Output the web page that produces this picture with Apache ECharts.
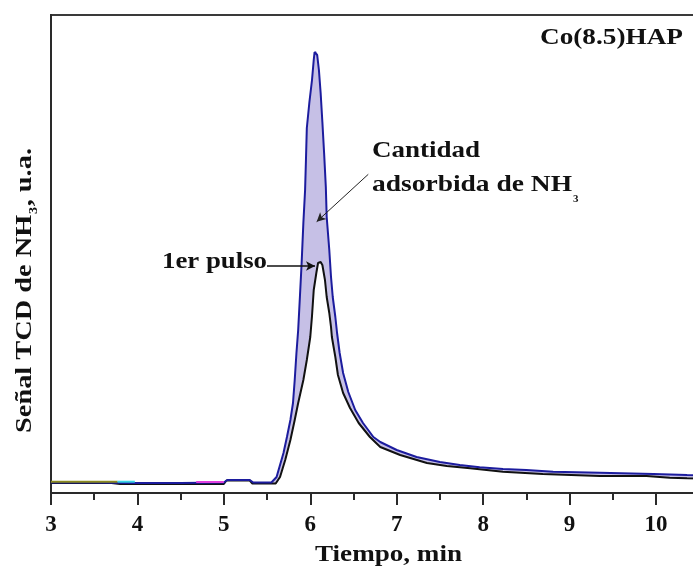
<!DOCTYPE html>
<html><head><meta charset="utf-8">
<script src="https://cdn.jsdelivr.net/npm/echarts@6/dist/echarts.min.js"></script>
<style>html,body{margin:0;padding:0;background:#fff;overflow:hidden;width:693px;height:569px}#c{width:800px;height:569px}</style>
</head><body><div id="c"></div>
<script>
// Upper trace (total signal, blue)
const upperTime = [3.00,3.50,4.00,4.50,5.00,5.04,5.30,5.34,5.55,5.61,5.69,5.73,5.77,5.80,5.82,5.84,5.86,5.88,5.90,5.92,5.94,5.95,5.96,5.99,6.02,6.04,6.05,6.07,6.08,6.10,6.12,6.14,6.16,6.18,6.19,6.22,6.24,6.26,6.29,6.31,6.34,6.38,6.44,6.52,6.61,6.73,6.81,7.00,7.23,7.50,7.73,7.96,8.23,8.50,8.81,9.35,9.97,10.36,10.50];
const upperSignal = [10.5,10.5,10,10,10.5,13,13,10.5,10.5,16,40,56,73,90,113,140,163,196,230,270,303,333,365,391,413,433,441,442,438,423,400,371,340,306,276,243,216,196,176,160,140,120,101,83,70,56,51,43,36,31,28,25.7,24,23,21.3,20.3,19,18,17.8];
// First pulse trace (black)
const pulseTime = [3.00,3.70,3.80,5.00,5.03,5.30,5.33,5.60,5.65,5.71,5.77,5.82,5.86,5.92,5.96,6.00,6.02,6.04,6.07,6.09,6.12,6.14,6.17,6.19,6.22,6.24,6.25,6.29,6.32,6.38,6.46,6.56,6.69,6.81,7.04,7.35,7.58,7.85,8.23,8.69,9.35,9.89,10.16,10.36,10.50];
const pulseSignal = [10,10,9,9,12.5,12.5,9.5,9.5,16,33,53,73,90,113,133,156,177,203,220,230,231,228,213,196,180,166,156,136,118,100,85,70,56,46,38,30,27,24.7,21.3,19,17,17,15.3,14.7,14.5];
// small coloured baseline fragments of other pulses
const oliveTime = [3.00,3.77];
const oliveSignal = [11.3,11.3];
const cyanTime = [3.77,3.97];
const cyanSignal = [11.3,11.3];
const magentaTime = [4.68,5.00];
const magentaSignal = [11,11];
const xTickLabels = ['3','4','5','6','7','8','9','10'];

const zip = (a,b)=>a.map((v,i)=>[v,b[i]]);
const upper = zip(upperTime, upperSignal);
const pulse = zip(pulseTime, pulseSignal);

const FONT = '"Liberation Serif","Times New Roman",serif';
const ctx = document.createElement('canvas').getContext('2d');
function tw(text, size){ ctx.font = 'bold ' + size + 'px ' + FONT; return ctx.measureText(text).width; }
function hText(text, left, cy, width, size){
  return {type:'text', x:left, y:cy, scaleX: width / tw(text, size), silent:true,
    style:{text:text, font:'bold '+size+'px '+FONT, fill:'#111', textAlign:'left', textVerticalAlign:'middle', verticalAlign:'middle'}};
}
const sz = 24;
// Y title pieces
const y1 = 'Señal TCD de NH', y2 = ', u.a.';
const w1 = tw(y1, sz), ws = tw('3', 12), w2 = tw(y2, sz);
const ySpan = 285;
const yScale = ySpan / (w1 + ws + 1 + w2);

const chart = echarts.init(document.getElementById('c'), null, {renderer:'canvas', width:800, height:569});
chart.setOption({
  animation:false,
  backgroundColor:'#fff',
  grid:{left:51, top:15, right:57.6, bottom:76, show:true, borderColor:'#3a3a3a', borderWidth:2, backgroundColor:'transparent'},
  xAxis:{type:'value', min:3, max:11, interval:1,
    axisLine:{show:true, onZero:false, lineStyle:{color:'#2a2a2a', width:2}},
    axisTick:{show:true, inside:false, length:12, lineStyle:{color:'#2a2a2a', width:2}},
    minorTick:{show:true, splitNumber:2, length:7, lineStyle:{color:'#2a2a2a', width:2}},
    splitLine:{show:false},
    axisLabel:{show:true, margin:21, fontFamily:FONT, fontWeight:'bold', fontSize:23, color:'#111',
      formatter:(v)=>{ const i = Math.round(v)-3; return (Number.isInteger(v) && xTickLabels[i]) ? xTickLabels[i] : ''; }}
  },
  yAxis:{type:'value', min:0, max:478,
    axisLine:{show:true, onZero:false, lineStyle:{color:'#2a2a2a', width:2}},
    axisTick:{show:false}, axisLabel:{show:false}, splitLine:{show:false}
  },
  series:[
    {type:'custom', silent:true, z:1, data:[[3,0]], encode:{x:0,y:1},
      renderItem:(params, api)=>{
        const pts = upper.map(p=>api.coord(p)).concat(pulse.slice().reverse().map(p=>api.coord(p)));
        return {type:'polygon', shape:{points:pts}, style:{fill:'#c6c0e6', stroke:null}};
      }},
    {type:'line', name:'1er pulso', data:pulse, showSymbol:false, symbol:'none', z:3,
      lineStyle:{color:'#111', width:2},
      markLine:{silent:true, symbol:['none','arrow'], symbolSize:[7,9], label:{show:false},
        lineStyle:{color:'#111', type:'solid', width:1.5},
        data:[
          [{coord:[5.499,227]},{coord:[6.055,227]}],
          [{coord:[6.671,318.7], lineStyle:{width:1, color:'#222'}},{coord:[6.074,271.3]}]
        ]}},
    {type:'line', name:'total', data:upper, showSymbol:false, symbol:'none', z:4,
      lineStyle:{color:'#1c1c9e', width:2}},
    {type:'line', data:zip(oliveTime,oliveSignal), showSymbol:false, symbol:'none', z:5, lineStyle:{color:'#8a8a1e', width:2}},
    {type:'line', data:zip(cyanTime,cyanSignal), showSymbol:false, symbol:'none', z:5, lineStyle:{color:'#3ad6e6', width:2}},
    {type:'line', data:zip(magentaTime,magentaSignal), showSymbol:false, symbol:'none', z:5, lineStyle:{color:'#e040e0', width:2}}
  ],
  graphic:[
    hText('Co(8.5)HAP', 540, 38, 143, sz),
    hText('Cantidad', 372, 150.5, 108, sz),
    hText('adsorbida de NH', 372, 185, 200, sz),
    {type:'text', x:573, y:199.5, silent:true, style:{text:'3', font:'bold 11px '+FONT, fill:'#111', textAlign:'left', textVerticalAlign:'middle', verticalAlign:'middle'}},
    hText('1er pulso', 162, 262, 105, sz),
    hText('Tiempo, min', 315, 555, 147, sz),
    {type:'group', x:24.5, y:433, rotation:Math.PI/2, scaleX:yScale, silent:true, children:[
      {type:'text', x:0, y:0, style:{text:y1, font:'bold '+sz+'px '+FONT, fill:'#111', textAlign:'left', textVerticalAlign:'middle', verticalAlign:'middle'}},
      {type:'text', x:w1+0.5, y:9, style:{text:'3', font:'bold 12px '+FONT, fill:'#111', textAlign:'left', textVerticalAlign:'middle', verticalAlign:'middle'}},
      {type:'text', x:w1+ws+1, y:0, style:{text:y2, font:'bold '+sz+'px '+FONT, fill:'#111', textAlign:'left', textVerticalAlign:'middle', verticalAlign:'middle'}}
    ]}
  ]
});
</script></body></html>
